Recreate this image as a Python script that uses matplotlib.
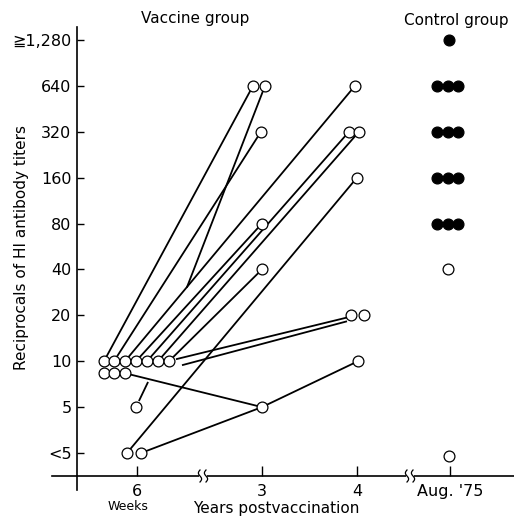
import numpy as np
import matplotlib
matplotlib.use("Agg")
import matplotlib.pyplot as plt
from matplotlib.ticker import NullLocator

plt.rcParams['font.family'] = ['DejaVu Sans', 'Noto Sans CJK JP']

# ---------------- data ----------------
categories = ["6", "3", "4", "Aug. '75"]          # 6 weeks, 3 yrs, 4 yrs, Aug '75
tick_values = [2.5, 5, 10, 20, 40, 80, 160, 320, 640, 1280]   # 2.5 stands for "<5"
tick_labels = ["<5", "5", "10", "20", "40", "80", "160", "320", "640", "\u22671,280"]

# vaccine group circles: (category index, titer)
wk6_titers = [10, 10, 10, 10, 10, 10, 10, 10, 10, 10, 5, 2.5, 2.5]
yr3_titers = [640, 640, 320, 80, 40, 5]
yr4_titers = [640, 320, 320, 160, 20, 20, 10]
# control group (Aug. '75)
control_filled = [1280, 640, 640, 640, 320, 320, 320, 160, 160, 160, 80, 80, 80]
control_open = [40, 2.5]

# connecting lines: (from category, from titer, to category, to titer)
links = [
    (0, 10, 1, 640), (0, 10, 1, 320), (0, 10, 2, 640), (0, 10, 1, 80),
    (0, 10, 2, 320), (0, 10, 2, 320), (0, 10, 1, 40),
    (0, 10, 2, 20), (0, 10, 2, 20),
    (0, 10, 1, 5), (0, 2.5, 1, 5), (1, 5, 2, 10), (0, 2.5, 2, 160),
]

# ---------------- layout (pixel offsets to separate overlapping circles) ----------------
cat_pos = [1.37, 2.62, 3.57, 4.50]
wk6_dx = [-33, -23, -12, -1, 10, 21, 32, -33, -23, -12, -1, -10, 4]
wk6_dy = [0, 0, 0, 0, 0, 0, 0, 12, 12, 12, 0, 0, 0]
yr3_dx = [-9, 3, -1, 0, 0, 0]
yr4_dx = [-2, -8, 2, 0, -6, 7, 1]
ctl_dx = [-1, -13, -2, 8, -13, -2, 8, -13, -2, 8, -13, -2, 8]
ctl_open_dx = [-2, -1]
ctl_open_dy = [0, 3]
# link offsets: (start dx, start dy, end dx, end dy)
link_off = [
    (-33, 0, -9, 0), (-23, 0, -1, 0), (-12, 0, -2, 0), (-1, 0, 0, 0),
    (10, 0, -8, 0), (21, 0, 2, 0), (32, 0, 0, 0),
    (39, -2, -9, 2), (45, 4, -10, 6),
    (-12, 12, 0, 0), (4, 0, 0, 0), (0, 0, 1, 0), (-10, 0, 0, 0),
]

W, H = 514, 519
fig = plt.figure(figsize=(W / 100, H / 100), dpi=100)
ax = fig.add_axes([52 / W, 1 - 490 / H, (514 - 52) / W, (490 - 27) / H])


def lvl2val(level):
    return 2.5 * 2 ** level


ax.set_yscale('log', base=2)
ax.set_xlim(0.52, 5.14)
ax.set_ylim(lvl2val((453 - 490) / 45.9), lvl2val((453 - 27) / 45.9))

ax.spines['top'].set_visible(False)
ax.spines['right'].set_visible(False)
ax.spines['left'].set_position(('data', 0.77))
ax.spines['bottom'].set_position(('data', lvl2val((453 - 476) / 45.9)))
for s in ('left', 'bottom'):
    ax.spines[s].set_linewidth(1.2)

ax.set_yticks(tick_values, tick_labels)
ax.yaxis.set_minor_locator(NullLocator())
ax.set_xticks(cat_pos, categories)
ax.xaxis.set_minor_locator(NullLocator())
ax.tick_params(axis='y', direction='in', length=5, width=1, pad=4, labelsize=11.5)
ax.tick_params(axis='x', direction='in', length=7, width=1, pad=6, labelsize=11.5)


def pos(cat, titer, dx=0, dy=0):
    d = ax.transData.transform((cat_pos[cat], titer))
    d = d + np.array([dx, -dy])
    return ax.transData.inverted().transform(d)


def px(xp, yp):
    return ax.transData.inverted().transform((xp, H - yp))


lw = 1.3
# links
for (c0, t0, c1, t1), (sdx, sdy, edx, edy) in zip(links, link_off):
    p0 = pos(c0, t0, sdx, sdy)
    p1 = pos(c1, t1, edx, edy)
    ax.plot([p0[0], p1[0]], [p0[1], p1[1]], color='black', lw=lw, zorder=2,
            solid_capstyle='butt')

# partial strokes (as printed): branch off link 3 to 3-yr 640, stub from the "5" circle
a0 = pos(0, 10, -12, 0)
a1 = pos(2, 640, -2, 0)
da0 = ax.transData.transform(a0)
da1 = ax.transData.transform(a1)
apex = ax.transData.inverted().transform(da0 + 0.27 * (da1 - da0))
tgt = pos(1, 640, 3, 0)
ax.plot([apex[0], tgt[0]], [apex[1], tgt[1]], color='black', lw=lw, zorder=2)
s0 = ax.transData.transform(pos(0, 5, -1, 0))
s1 = ax.transData.transform(pos(0, 10, 21, 0))
send = ax.transData.inverted().transform(s0 + 0.53 * (s1 - s0))
sb = ax.transData.inverted().transform(s0 + 0.15 * (s1 - s0))
ax.plot([sb[0], send[0]], [sb[1], send[1]], color='black', lw=lw, zorder=2)

ms = 7.8
mew = 0.9
open_kw = dict(marker='o', ms=ms, mfc='white', mec='black', mew=mew, ls='none',
               zorder=5, clip_on=False)
for t, dx, dy in zip(wk6_titers, wk6_dx, wk6_dy):
    p = pos(0, t, dx, dy)
    ax.plot(p[0], p[1], **open_kw)
for t, dx in zip(yr3_titers, yr3_dx):
    p = pos(1, t, dx, 0)
    ax.plot(p[0], p[1], **open_kw)
for t, dx in zip(yr4_titers, yr4_dx):
    p = pos(2, t, dx, 0)
    ax.plot(p[0], p[1], **open_kw)
for t, dx in zip(control_filled, ctl_dx):
    p = pos(3, t, dx, 0)
    ax.plot(p[0], p[1], marker='o', ms=ms, mfc='black', mec='black', mew=mew,
            ls='none', zorder=5)
for t, dx, dy in zip(control_open, ctl_open_dx, ctl_open_dy):
    p = pos(3, t, dx, dy)
    ax.plot(p[0], p[1], **open_kw)

# axis breaks
for xb in (203, 410):
    g0 = px(xb - 4, 476)
    g1 = px(xb + 4, 476)
    ax.plot([g0[0], g1[0]], [g0[1], g1[1]], color='white', lw=3, zorder=6,
            clip_on=False, solid_capstyle='butt')
    t = np.linspace(0, 1, 30)
    for off in (-3, 3):
        xs = xb + off + 1.6 * np.sin(2 * np.pi * t)
        ys = 482 - 12 * t
        pts = np.array([px(a, b) for a, b in zip(xs, ys)])
        ax.plot(pts[:, 0], pts[:, 1], color='black', lw=0.9, zorder=7, clip_on=False)

fig.text(195 / W, 1 - 19 / H, "Vaccine group", ha='center', va='center', fontsize=11)
fig.text(456 / W, 1 - 20 / H, "Control group", ha='center', va='center', fontsize=11)
fig.text(22 / W, 1 - 247 / H, "Reciprocals of HI antibody titers", rotation=90,
         ha='center', va='center', fontsize=11)
fig.text(128 / W, 1 - 506 / H, "Weeks", ha='center', va='center', fontsize=9)
fig.text(276 / W, 1 - 508 / H, "Years postvaccination", ha='center', va='center',
         fontsize=11)

fig.savefig("out.png", dpi=100)
